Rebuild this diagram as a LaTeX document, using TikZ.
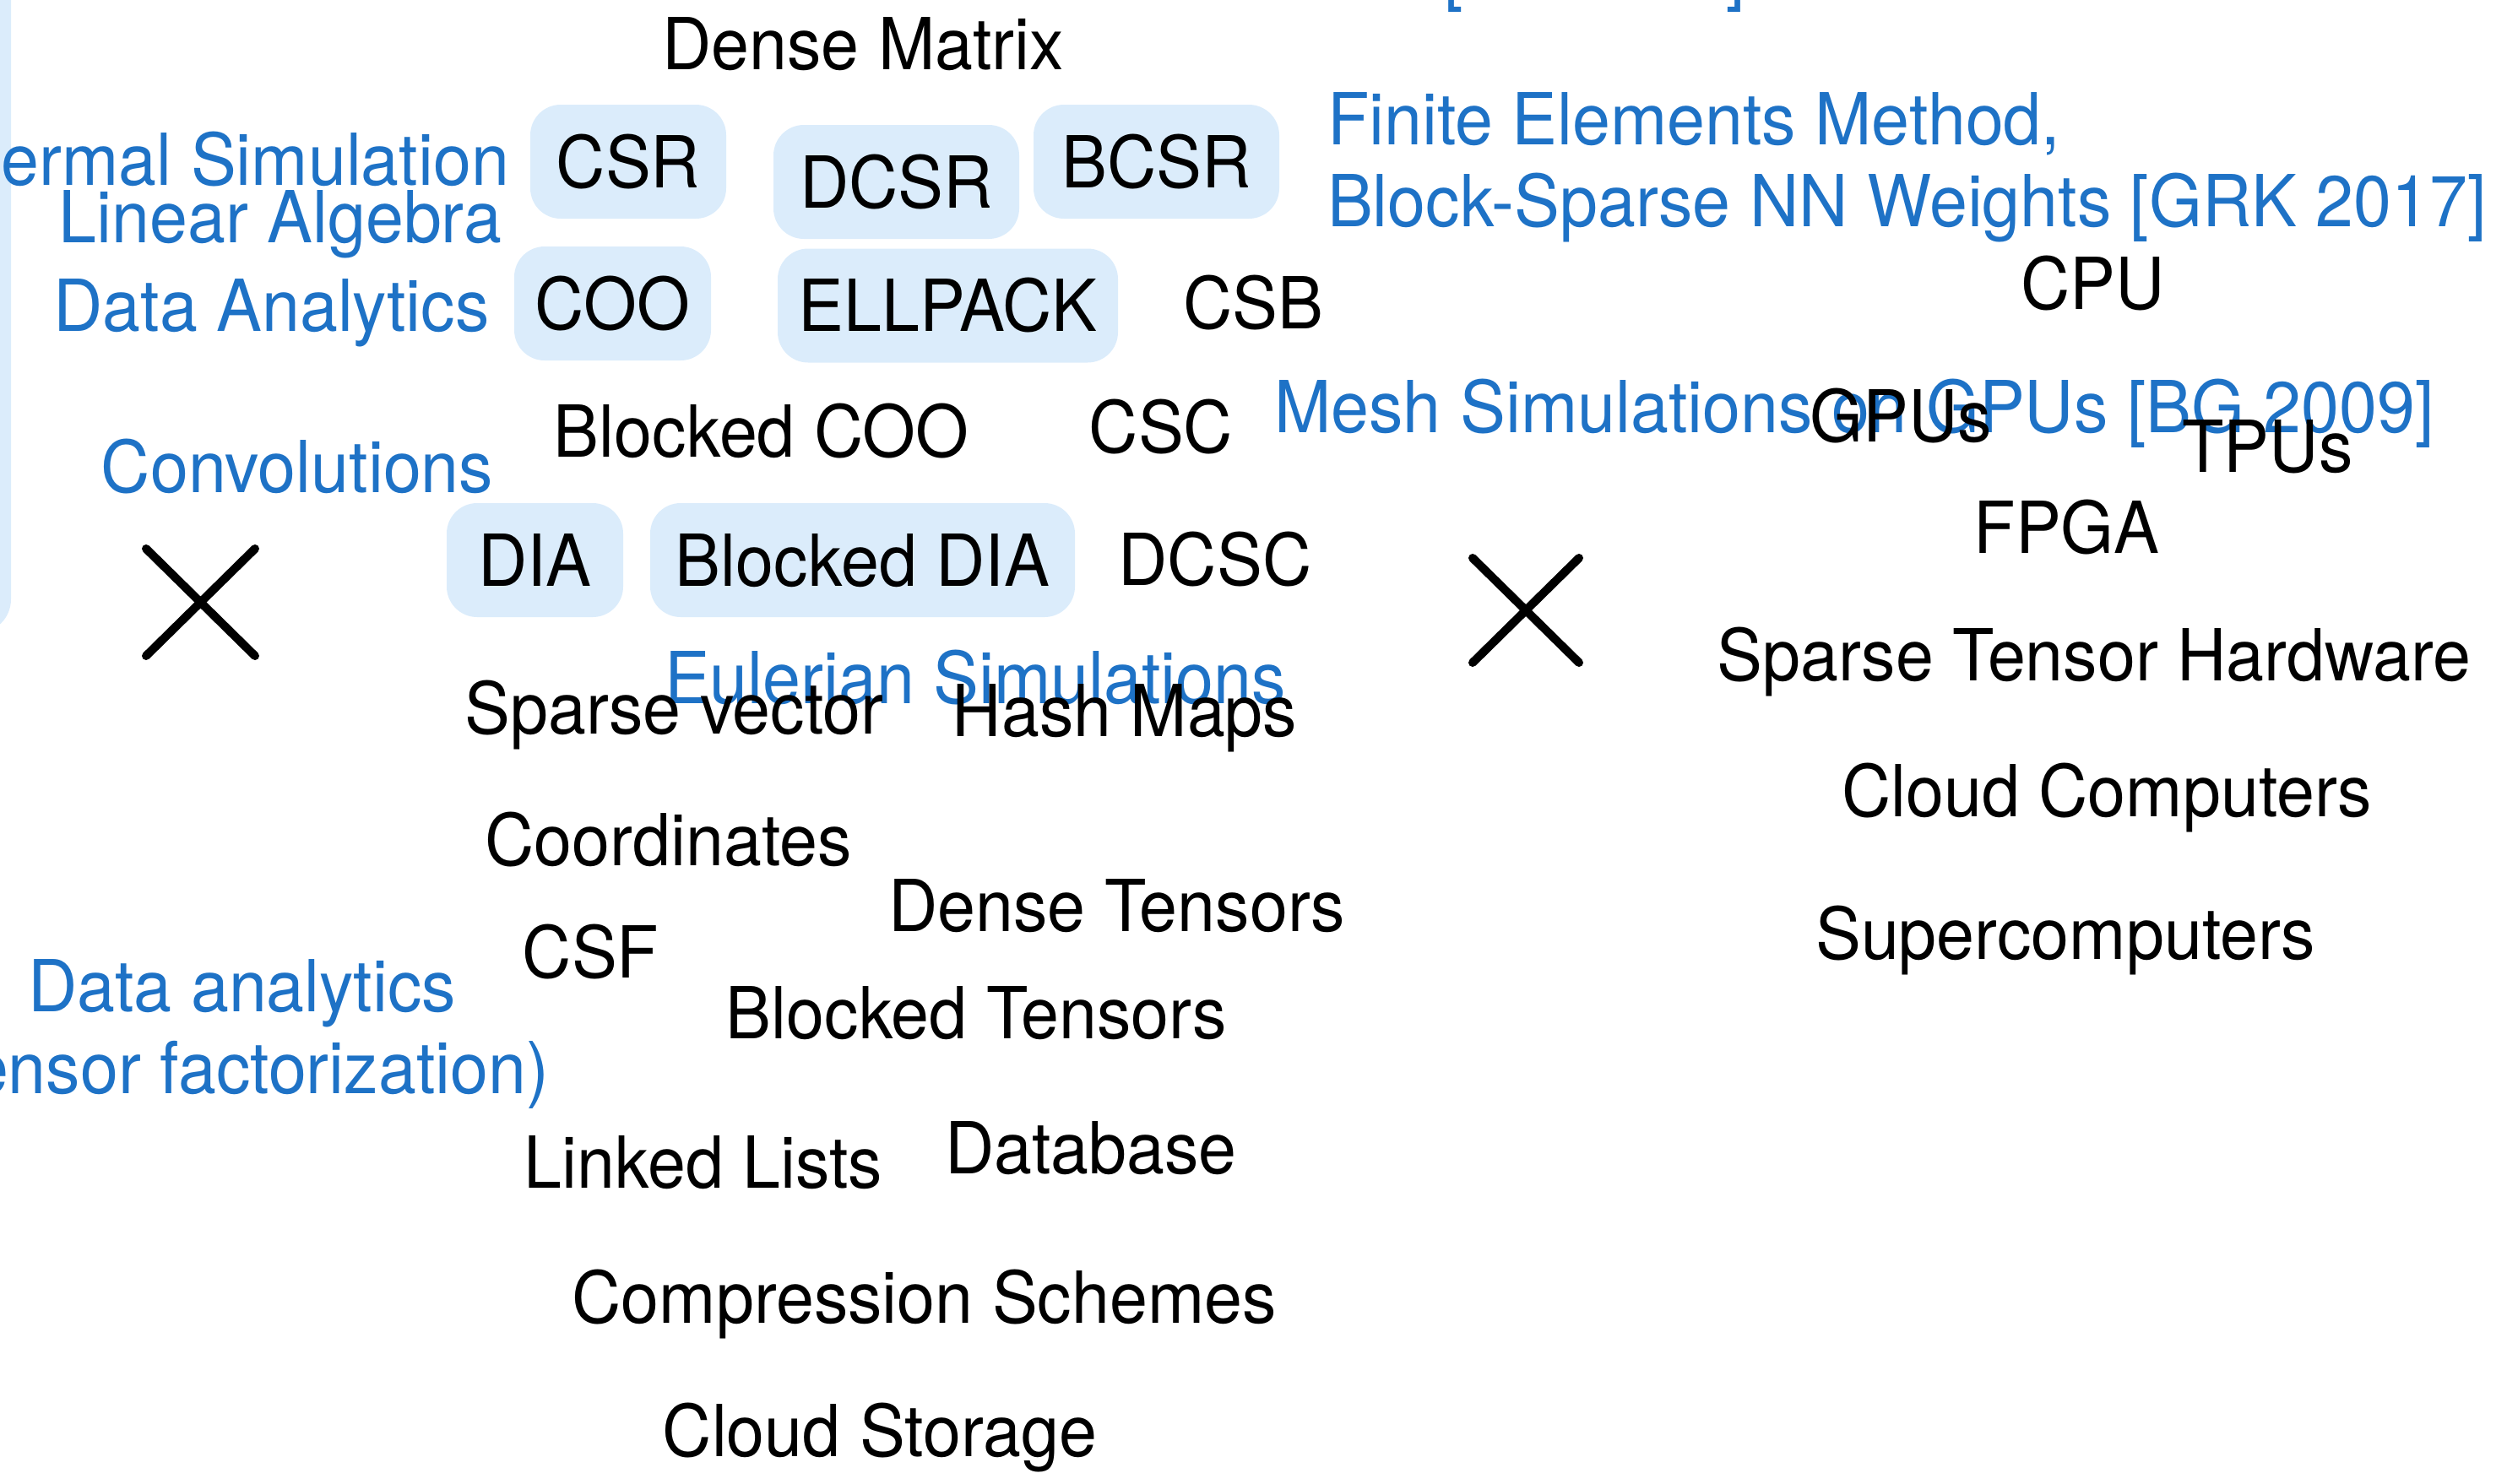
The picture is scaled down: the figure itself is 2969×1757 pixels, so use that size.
\documentclass[tikz,border=0pt]{standalone}
\usepackage{fontspec}
\setmainfont{TeX Gyre Heros}[FakeStretch=0.95]
\definecolor{topicblue}{RGB}{30,114,198}
\definecolor{boxfill}{RGB}{219,236,251}
\begin{document}
\begin{tikzpicture}[x=1pt,y=-1pt,
  every node/.style={inner sep=0pt, outer sep=0pt},
  lbl/.style={font=\fontsize{85}{100}\selectfont, anchor=base},
  topic/.style={lbl, text=topicblue},
  fmt/.style={lbl, anchor=center, fill=boxfill, rounded corners=36pt,
    text height=61pt, text depth=0pt, minimum height=135pt},
  cross/.style={line width=10pt, line cap=round}]
\useasboundingbox (0,0) rectangle (2969,1757);
% light blue panel cut by the left edge
\fill[boxfill, rounded corners=40pt] (-300,-300) rectangle (13,750);
% cut-off reference at the top
\node[topic] (topref) at (1888.5,-4) {[\hspace{312pt}]};
% applications (blue)
\node[topic, anchor=base east] (thermal) at (603,219) {Thermal Simulation};
\node[topic] (linalg) at (332,287) {Linear Algebra};
\node[topic] (dataan) at (321.5,392) {Data Analytics};
\node[topic] (conv) at (352,583) {Convolutions};
\node[topic, anchor=base west] (fem1) at (1572,171) {Finite Elements Method,};
\node[topic, anchor=base west] (fem2) at (1572,268) {Block-Sparse NN Weights [GRK 2017]};
\node[topic] (mesh) at (2196,512) {Mesh Simulations on GPUs [BG 2009]};
\node[topic] (euler) at (1155,833) {Eulerian Simulations};
\node[topic] (dataan2) at (286.5,1198) {Data analytics};
\node[topic, anchor=base east] (tensfac) at (650,1295) {(Tensor factorization)};
% formats
\node[lbl] (dense) at (1022,82) {Dense Matrix};
\node[fmt, minimum width=232pt] (csr) at (744,191.5) {CSR};
\node[fmt, minimum width=291pt] (dcsr) at (1061.5,215.5) {DCSR};
\node[fmt, minimum width=291pt] (bcsr) at (1369.5,191.5) {BCSR};
\node[fmt, minimum width=233pt] (coo) at (725.5,359.5) {COO};
\node[fmt, minimum width=403pt] (ellpack) at (1122.5,362) {ELLPACK};
\node[lbl] (csb) at (1484.5,389) {CSB};
\node[lbl] (bcoo) at (901.5,541) {Blocked COO};
\node[lbl] (csc) at (1375,536) {CSC};
\node[fmt, minimum width=209pt] (dia) at (633.5,663.5) {DIA};
\node[fmt, minimum width=503pt] (bdia) at (1021.5,663.5) {Blocked DIA};
\node[lbl] (dcsc) at (1439,693) {DCSC};
\node[lbl] (spvec) at (798.5,869) {Sparse vector};
\node[lbl] (hash) at (1332,872) {Hash Maps};
\node[lbl] (coord) at (791.5,1025) {Coordinates};
\node[lbl] (dtens) at (1322.5,1103) {Dense Tensors};
\node[lbl] (csf) at (699.5,1158) {CSF};
\node[lbl] (btens) at (1156,1230) {Blocked Tensors};
\node[lbl] (llist) at (833,1407) {Linked Lists};
\node[lbl] (db) at (1292,1390) {Database};
\node[lbl] (comp) at (1094.5,1567) {Compression Schemes};
\node[lbl] (cstor) at (1042,1725) {Cloud Storage};
% hardware
\node[lbl] (cpu) at (2478.5,366) {CPU};
\node[lbl] (gpu) at (2251.5,523) {GPUs};
\node[lbl] (tpu) at (2685.5,559) {TPUs};
\node[lbl] (fpga) at (2447.5,655) {FPGA};
\node[lbl] (sth) at (2480,806) {Sparse Tensor Hardware};
\node[lbl] (ccomp) at (2495,967) {Cloud Computers};
\node[lbl] (super) at (2446,1136) {Supercomputers};
% crosses
\coordinate (xa1) at (173,650); \coordinate (xa2) at (302,777);
\coordinate (xa3) at (302,650); \coordinate (xa4) at (173,777);
\draw[cross] (xa1) -- (xa2);
\draw[cross] (xa3) -- (xa4);
\coordinate (xb1) at (1744,661); \coordinate (xb2) at (1870,785);
\coordinate (xb3) at (1870,661); \coordinate (xb4) at (1744,785);
\draw[cross] (xb1) -- (xb2);
\draw[cross] (xb3) -- (xb4);
\end{tikzpicture}
\end{document}
